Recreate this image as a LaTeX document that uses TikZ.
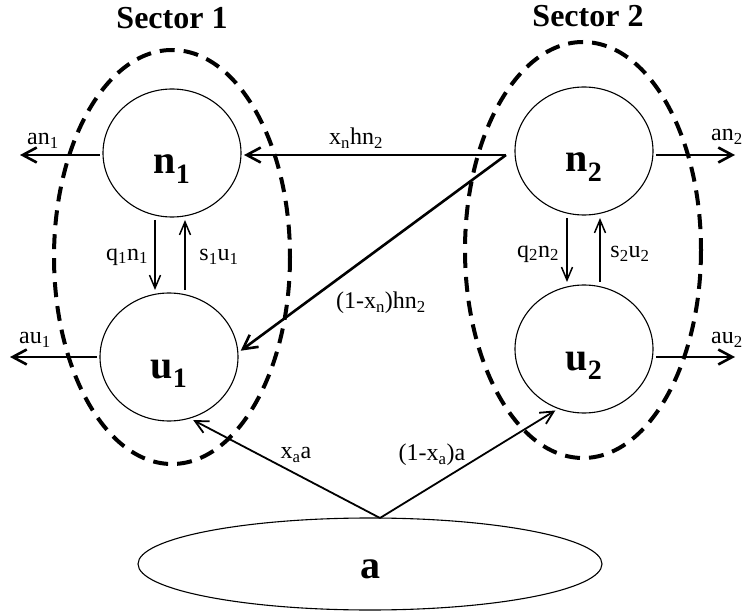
\documentclass[tikz,border=0pt]{standalone}
\usepackage{fontspec}
\setmainfont{Liberation Serif}
\usetikzlibrary{arrows.meta,shapes.geometric}

\newcommand{\sbs}[1]{\textsubscript{#1}}
\newcommand{\poollabel}[2][-21pt]{\raisebox{#1}[0pt][0pt]{#2}}

\begin{document}
\begin{tikzpicture}[x=1pt,y=-1pt,
  pool/.style={draw,ellipse,line width=1.1pt,minimum width=138pt,minimum height=128pt,
    inner sep=0pt,outer sep=3pt,font=\fontsize{40}{40}\selectfont\bfseries},
  sector/.style={line width=4pt,dash pattern=on 15pt off 9pt},
  flow/.style={line width=2.6pt,-{Straight Barb[length=14pt,width=15pt]}},
  feed/.style={line width=1.8pt,-{Straight Barb[length=13pt,width=13pt]}},
  swap/.style={line width=1.5pt,-{Straight Barb[length=13pt,width=11pt]}},
  lbl/.style={font=\fontsize{24}{24}\selectfont},
  title/.style={font=\fontsize{32}{32}\selectfont\bfseries}]
  \useasboundingbox (0,0) rectangle (742,612);
  % sectors
  \draw[sector] (172,257) ellipse [x radius=118, y radius=207];
  \draw[sector] (583,250) ellipse [x radius=118, y radius=208];
  \node[title] (sec1) at (172,18) {Sector 1};
  \node[title] (sec2) at (588,16) {Sector 2};
  % stocks
  \node[pool] (n1) at (172,153) {\poollabel{n\sbs{1}}};
  \node[pool] (u1) at (169,357) {\poollabel{u\sbs{1}}};
  \node[pool] (n2) at (584,151) {\poollabel{n\sbs{2}}};
  \node[pool] (u2) at (584,349) {\poollabel{u\sbs{2}}};
  \node[pool,minimum width=464pt,minimum height=92pt,outer sep=0pt] (a) at (370,564)
    {\poollabel[-14pt]{a}};
  % free ends
  \coordinate (an1tip) at (20,155);
  \coordinate (au1tip) at (10,357);
  \coordinate (an2tip) at (735,155);
  \coordinate (au2tip) at (735,357);
  \coordinate (hsrc) at ([xshift=-6pt,yshift=-4pt]n2.west);
  \coordinate (asrc) at ([xshift=10pt]a.north);
  % outflows
  \draw[flow] (n1.west |- an1tip) -- (an1tip);
  \draw[flow] (u1.west |- au1tip) -- (au1tip);
  \draw[flow] (n2.east |- an2tip) -- (an2tip);
  \draw[flow] (u2.east |- au2tip) -- (au2tip);
  \node[lbl] (lan1) at (43,141) {an\sbs{1}};
  \node[lbl] (lau1) at (35,340) {au\sbs{1}};
  \node[lbl] (lan2) at (727,137) {an\sbs{2}};
  \node[lbl] (lau2) at (727,340) {au\sbs{2}};
  % between sectors
  \draw[flow] (hsrc) -- (hsrc -| n1.east);
  \draw[flow] (hsrc) -- (u1.5);
  \node[lbl] (lxn) at (356,138) {x\sbs{n}hn\sbs{2}};
  \node[lbl] (l1xn) at (381,303) {(1-x\sbs{n})hn\sbs{2}};
  % within sectors
  \draw[swap] ([xshift=-17pt]n1.south) -- ([xshift=-17pt]n1.south |- u1.north);
  \draw[swap] ([xshift=13pt]n1.south |- u1.north) -- ([xshift=13pt]n1.south);
  \draw[swap] ([xshift=-17pt]n2.south) -- ([xshift=-17pt]n2.south |- u2.north);
  \draw[swap] ([xshift=16pt]n2.south |- u2.north) -- ([xshift=16pt]n2.south);
  \node[lbl] (lq1) at (127,257) {q\sbs{1}n\sbs{1}};
  \node[lbl] (ls1) at (219,257) {s\sbs{1}u\sbs{1}};
  \node[lbl] (lq2) at (538,254) {q\sbs{2}n\sbs{2}};
  \node[lbl] (ls2) at (630,254) {s\sbs{2}u\sbs{2}};
  % from a
  \draw[feed] (asrc) -- (u1.-69);
  \draw[feed] (asrc) -- (u2.-115);
  \node[lbl] (lxa) at (296,455) {x\sbs{a}a};
  \node[lbl] (l1xa) at (432,455) {(1-x\sbs{a})a};
\end{tikzpicture}
\end{document}
